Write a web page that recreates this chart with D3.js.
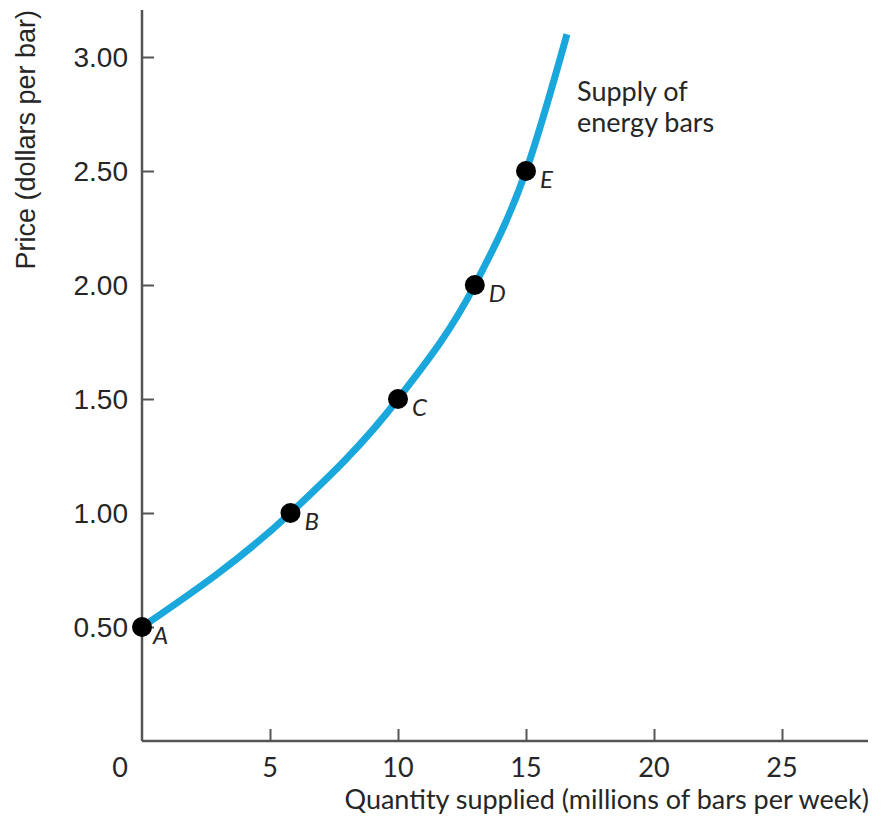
<!DOCTYPE html>
<html><head><meta charset="utf-8">
<script src="https://cdn.jsdelivr.net/npm/d3@7"></script>
<style>body{margin:0;background:#fff}svg{display:block}text{font-family:Lato,"Open Sans",sans-serif;fill:#262626}</style>
</head><body>
<script>
const pointLabels = ["A","B","C","D","E"];
const quantities = [0, 5.8, 10, 13, 15];
const prices = [0.5, 1.0, 1.5, 2.0, 2.5];
const curveQuantities = [0, 5.8, 10, 13, 15, 16.6];
const curvePrices = [0.5, 1.0, 1.5, 2.0, 2.5, 3.1];
const xTicks = [5, 10, 15, 20, 25];
const yTicks = [0.5, 1.0, 1.5, 2.0, 2.5, 3.0];
const yTickLabels = ["0.50","1.00","1.50","2.00","2.50","3.00"];
const xTitle = "Quantity supplied (millions of bars per week)";
const yTitle = "Price (dollars per bar)";
const curveLabel = ["Supply of", "energy bars"];

const W = 887, H = 818;
const svg = d3.select("body").append("svg").attr("width", W).attr("height", H);
const x = d3.scaleLinear().domain([0, 25]).range([142, 782]);
const y = d3.scaleLinear().domain([0, 3]).range([741, 57]);
const axisColor = "#555";

// axes
const xAxis = svg.append("g").attr("transform", `translate(0,${y(0)})`)
  .call(d3.axisTop(x).tickValues(xTicks).tickSize(12).tickFormat(""));
xAxis.select(".domain").remove();
xAxis.selectAll("line").attr("stroke", axisColor).attr("stroke-width", 2);
const yAxis = svg.append("g").attr("transform", `translate(${x(0)},0)`)
  .call(d3.axisRight(y).tickValues(yTicks).tickSize(12).tickFormat(""));
yAxis.select(".domain").remove();
yAxis.selectAll("line").attr("stroke", axisColor).attr("stroke-width", 2);

svg.append("line").attr("x1", x(0)).attr("x2", 868).attr("y1", y(0)).attr("y2", y(0))
  .attr("stroke", axisColor).attr("stroke-width", 2.5);
svg.append("line").attr("x1", x(0)).attr("x2", x(0)).attr("y1", 10).attr("y2", y(0))
  .attr("stroke", axisColor).attr("stroke-width", 2.5);

// tick labels
svg.selectAll(".xl").data([0].concat(xTicks)).enter().append("text")
  .attr("x", d => d === 0 ? 120 : x(d)).attr("y", 777)
  .attr("text-anchor", "middle").attr("font-size", 27).text(d => d);
svg.selectAll(".yl").data(yTicks).enter().append("text")
  .attr("x", 128).attr("y", d => y(d) + 10)
  .attr("text-anchor", "end").attr("font-size", 28)
  .style("font-family", "'Liberation Sans', Arial, sans-serif")
  .text((d, i) => yTickLabels[i]);

// titles
svg.append("text").attr("x", 869).attr("y", 809).attr("text-anchor", "end")
  .attr("font-size", 27).text(xTitle);
svg.append("text").attr("transform", "translate(35,10) rotate(-90)")
  .attr("text-anchor", "end").attr("font-size", 27)
  .style("font-family", "'Liberation Sans', Arial, sans-serif").text(yTitle);

// curve
const line = d3.line().x(d => x(d[0])).y(d => y(d[1])).curve(d3.curveMonotoneX);
svg.append("path").datum(curveQuantities.map((q, i) => [q, curvePrices[i]]))
  .attr("d", line).attr("fill", "none").attr("stroke", "#1aa7dc").attr("stroke-width", 7);

// points
svg.selectAll(".pt").data(quantities).enter().append("circle")
  .attr("cx", d => x(d)).attr("cy", (d, i) => y(prices[i])).attr("r", 10).attr("fill", "#000");
svg.selectAll(".pl").data(quantities).enter().append("text")
  .attr("x", d => x(d) + (d === 0 ? 11 : 14)).attr("y", (d, i) => y(prices[i]) + 17)
  .attr("font-size", 24).attr("font-style", "italic").text((d, i) => pointLabels[i]);

// curve label
svg.selectAll(".cl").data(curveLabel).enter().append("text")
  .attr("x", 577).attr("y", (d, i) => 101 + i * 31).attr("font-size", 27).text(d => d);
</script>
</body></html>
